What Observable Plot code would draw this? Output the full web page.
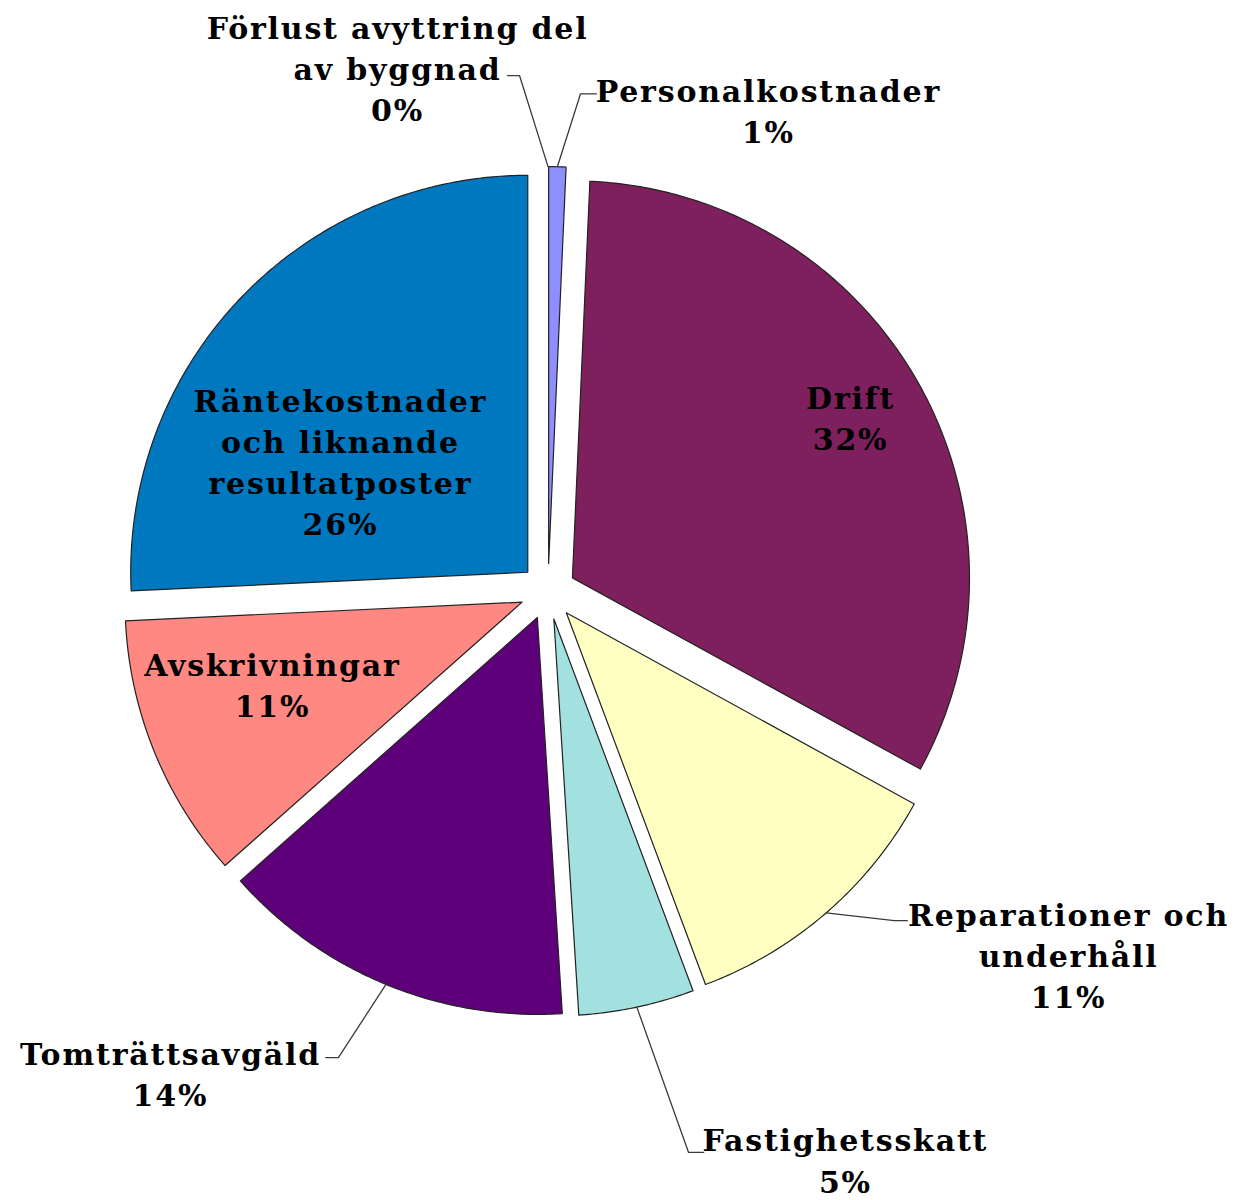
<!DOCTYPE html>
<html>
<head>
<meta charset="utf-8">
<script src="https://cdn.jsdelivr.net/npm/d3@7"></script>
<script src="https://cdn.jsdelivr.net/npm/@observablehq/plot@0.6"></script>
<style>
  html, body { margin: 0; padding: 0; background: #ffffff; }
  #chart svg { display: block; }
  #chart svg text { letter-spacing: 1.8px; }
</style>
</head>
<body>
<div id="chart"></div>
<script>
// ---- Data (clockwise from 12 o'clock) ----
const categories = [
  "Personalkostnader",
  "Drift",
  "Reparationer och underhåll",
  "Fastighetsskatt",
  "Tomträttsavgäld",
  "Avskrivningar",
  "Räntekostnader och liknande resultatposter",
  "Förlust avyttring del av byggnad"
];
const shares = [0.7, 32.3, 11.3, 4.7, 14.45, 10.8, 25.75, 0];
const labelNames = [
  "Personalkostnader",
  "Drift",
  "Reparationer och\nunderhåll",
  "Fastighetsskatt",
  "Tomträttsavgäld",
  "Avskrivningar",
  "Räntekostnader\noch liknande\nresultatposter",
  "Förlust avyttring del\nav byggnad"
];
const colors = ["#8E8EFF", "#7E1F5E", "#FFFFC2", "#A3E0E0", "#5E0079", "#FF8882", "#0078C0", "#CCCCFF"];

// ---- Layout (pie radius = 1) ----
const EXPLODE = 0.0705;
const labelLayout = {
  "Personalkostnader": {x: 0.555, y: 1.215, leader: [[0.0819, 1.254], [0.122, 1.254]]},
  "Drift": {x: 0.762, y: 0.441},
  "Reparationer och underhåll": {x: 1.311, y: -0.912, leader: [[0.872, -0.829], [0.905, -0.829]]},
  "Fastighetsskatt": {x: 0.749, y: -1.429, leader: [[0.354, -1.413], [0.392, -1.413]]},
  "Tomträttsavgäld": {x: -0.951, y: -1.212, leader: [[-0.528, -1.174], [-0.560, -1.174]]},
  "Avskrivningar": {x: -0.694, y: -0.232},
  "Räntekostnader och liknande resultatposter": {x: -0.523, y: 0.330},
  "Förlust avyttring del av byggnad": {x: -0.379, y: 1.322, leader: [[-0.0718, 1.300], [-0.102, 1.300]]}
};

const arcs = d3.pie().sort(null).value(d => d).startAngle(0).endAngle(2 * Math.PI)(shares);

const marks = [];
const labels = [];
const leaders = [];

categories.forEach((cat, i) => {
  const a = arcs[i];
  const mid = (a.startAngle + a.endAngle) / 2;
  const ox = EXPLODE * Math.sin(mid);
  const oy = EXPLODE * Math.cos(mid);
  if (shares[i] > 0) {
    const pts = [{x: ox, y: oy}];
    const n = Math.max(2, Math.ceil((a.endAngle - a.startAngle) / (Math.PI / 360)));
    for (let k = 0; k <= n; k++) {
      const t = a.startAngle + (a.endAngle - a.startAngle) * k / n;
      pts.push({x: ox + Math.sin(t), y: oy + Math.cos(t)});
    }
    marks.push(Plot.line(pts, {x: "x", y: "y", curve: "linear-closed", fill: colors[i], stroke: "#222222", strokeWidth: 1.2}));
  }
  const L = labelLayout[cat];
  labels.push({x: L.x, y: L.y, text: labelNames[i] + "\n" + Math.round(shares[i]) + "%"});
  if (L.leader) {
    const start = {x: ox + Math.sin(mid), y: oy + Math.cos(mid), g: cat};
    leaders.push(start);
    L.leader.forEach(p => leaders.push({x: p[0], y: p[1], g: cat}));
  }
});

marks.push(Plot.line(leaders, {x: "x", y: "y", z: "g", stroke: "#3a3a3a", strokeWidth: 1.3}));
marks.push(Plot.text(labels, {
  x: "x", y: "y", text: "text",
  fontFamily: "DejaVu Serif", fontWeight: "bold", fontSize: 30,
  lineHeight: 1.37, lineAnchor: "middle", textAnchor: "middle", fill: "#000000"
}));

const chart = Plot.plot({
  width: 1236,
  height: 1200,
  margin: 0,
  x: {domain: [-1.379, 1.734], axis: null},
  y: {domain: [-1.534, 1.489], axis: null},
  style: {background: "#ffffff", overflow: "visible"},
  marks
});
document.getElementById("chart").appendChild(chart);
</script>
</body>
</html>
